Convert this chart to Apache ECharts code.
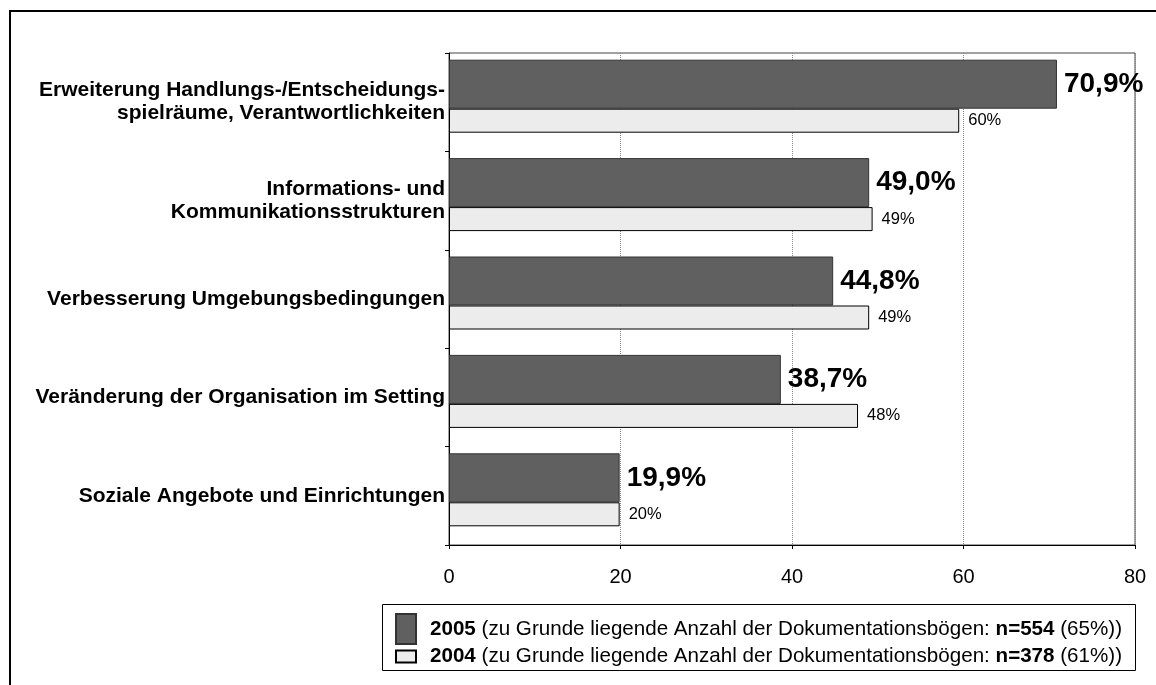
<!DOCTYPE html>
<html>
<head>
<meta charset="utf-8">
<style>
  html, body { margin: 0; padding: 0; background: #fff; }
  #chart { width: 1156px; height: 685px; }
</style>
<script src="https://cdn.jsdelivr.net/npm/echarts@6/dist/echarts.min.js"></script>
</head>
<body>
<div id="chart"></div>
<script>
// Kategorien (von oben nach unten)
var categories = [
    "Erweiterung Handlungs-/Entscheidungs-\nspielräume, Verantwortlichkeiten",
    "Informations- und\nKommunikationsstrukturen",
    "Verbesserung Umgebungsbedingungen",
    "Veränderung der Organisation im Setting",
    "Soziale Angebote und Einrichtungen"
];
// Werte in Prozent
var values2005 = [70.9, 49.0, 44.8, 38.7, 19.9];
var values2004 = [59.5, 49.4, 49.0, 47.7, 19.9];
// Legende: Jahr, Anzahl Bögen, Rücklauf
var years = ["2005", "2004"];
var sampleN = [554, 378];
var samplePct = [65, 61];

var font = "Liberation Sans, Arial, sans-serif";

function legendText(name) {
    var i = years.indexOf(name);
    return "{b|" + name + "} (zu Grunde liegende Anzahl der Dokumentationsbögen: {b|n=" +
        sampleN[i] + "} (" + samplePct[i] + "%))";
}

var legendTextStyle = {
    fontFamily: font,
    fontSize: 20.6,
    color: "#000",
    padding: [0, 0, 0, 9],
    rich: {
        b: { fontFamily: font, fontSize: 20.6, fontWeight: "bold", color: "#000" }
    }
};

var myChart = echarts.init(document.getElementById("chart"));
var option = {
    animation: false,
    backgroundColor: "#fff",
    textStyle: { fontFamily: font },
    grid: {
        left: 449,
        right: 21,
        top: 53,
        bottom: 140,
        show: true,
        borderColor: "#444",
        borderWidth: 1
    },
    xAxis: {
        type: "value",
        min: 0,
        max: 80,
        interval: 20,
        axisLine: { show: true, lineStyle: { color: "#000" } },
        axisTick: { show: true, length: 4, lineStyle: { color: "#000" } },
        axisLabel: { color: "#000", fontSize: 20, margin: 22, fontFamily: font },
        splitLine: { show: true, lineStyle: { color: "#888", type: "dotted" } }
    },
    yAxis: {
        type: "category",
        inverse: true,
        data: categories,
        axisLine: { show: true, lineStyle: { color: "#000" } },
        axisTick: { show: true, length: 4, lineStyle: { color: "#000" } },
        axisLabel: {
            color: "#000",
            fontSize: 21,
            fontWeight: "bold",
            fontFamily: font,
            lineHeight: 23,
            align: "right",
            margin: 4
        }
    },
    legend: [{
        data: ["2005"],
        left: 395,
        top: 613,
        padding: 0,
        orient: "vertical",
        itemWidth: 20,
        itemHeight: 30,
        icon: "rect",
        formatter: legendText,
        textStyle: legendTextStyle,
        selectedMode: false
    }, {
        data: ["2004"],
        left: 395,
        top: 646,
        padding: 0,
        orient: "vertical",
        itemWidth: 20,
        itemHeight: 12,
        icon: "rect",
        formatter: legendText,
        textStyle: legendTextStyle,
        selectedMode: false
    }],
    graphic: [{
        // äußerer Rahmen
        type: "polyline",
        shape: { points: [[10, 700], [10, 11], [1160, 11]] },
        style: { stroke: "#000", lineWidth: 2, fill: null }
    }, {
        // Rahmen um die Legende
        type: "rect",
        shape: { x: 382.5, y: 604.5, width: 753, height: 66 },
        style: { stroke: "#000", lineWidth: 1, fill: null },
        z: -1
    }],
    series: [{
        name: "2005",
        type: "bar",
        data: values2005,
        barWidth: 49,
        barGap: "0%",
        itemStyle: { color: "#606060", borderColor: "#333", borderWidth: 1 },
        label: {
            show: true,
            position: "right",
            distance: 7,
            color: "#000",
            fontSize: 28,
            fontWeight: "bold",
            fontFamily: font,
            formatter: function(p) {
                return p.value.toFixed(1).replace(".", ",") + "%";
            }
        }
    }, {
        name: "2004",
        type: "bar",
        data: values2004,
        barWidth: 24,
        barGap: "0%",
        itemStyle: { color: "#ececec", borderColor: "#000", borderWidth: 1 },
        label: {
            show: true,
            position: "right",
            distance: 9,
            color: "#000",
            fontSize: 16.5,
            fontFamily: font,
            formatter: function(p) {
                return Math.round(p.value) + "%";
            }
        }
    }, {
        // leere Reihe: schiebt die Balkenpaare wie im Original etwas nach oben
        name: "spacer",
        type: "bar",
        data: [],
        barWidth: 12,
        barGap: "0%",
        silent: true
    }]
};
myChart.setOption(option);
</script>
</body>
</html>
